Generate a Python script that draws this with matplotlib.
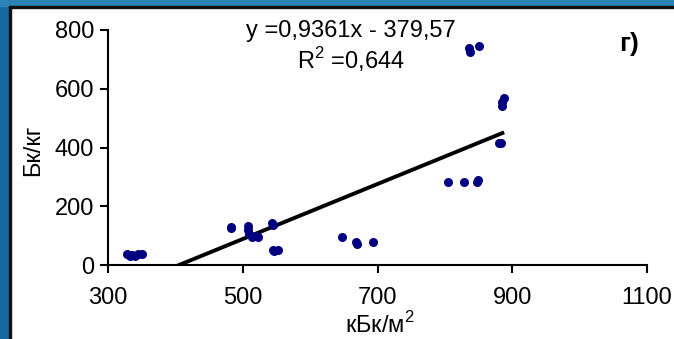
import numpy as np
import matplotlib
matplotlib.use("Agg")
import matplotlib.pyplot as plt
from matplotlib.patches import Rectangle

plt.rcParams['font.family'] = ['Liberation Sans', 'DejaVu Sans']
plt.rcParams['mathtext.fontset'] = 'custom'
plt.rcParams['mathtext.rm'] = 'Liberation Sans'

# data: deposition (kBq/m2) vs activity (Bq/kg)
deposition = [328, 332, 336, 340, 345, 350,
              482, 483,
              508, 508, 510, 513, 518, 522,
              543, 545, 545, 547, 552,
              647, 668, 669, 693,
              805, 829, 848, 849,
              836, 837, 851,
              880, 884, 885, 885, 888]
activity = [36, 30, 33, 30, 36, 36,
            131, 125,
            134, 120, 106, 97, 98, 97,
            143, 137, 52, 48, 50,
            95, 77, 71, 77,
            281, 281, 284, 289,
            738, 726, 745,
            415, 417, 542, 556, 570]

slope = 0.9361
intercept = -379.57
r2 = 0.644

x_ticks = [300, 500, 700, 900, 1100]
y_ticks = [0, 200, 400, 600, 800]

fig = plt.figure(figsize=(6.74, 3.39), dpi=100)
fig.patch.set_facecolor('white')

# blue frame (left and top) with a thin dark edge
fig.patches.append(Rectangle((0, 0), 9 / 674, 1, transform=fig.transFigure,
                             color='#17679f', zorder=0))
fig.patches.append(Rectangle((0, 1 - 6 / 339), 1, 6 / 339, transform=fig.transFigure,
                             color='#2a82b5', zorder=0))
fig.patches.append(Rectangle((9 / 674, 0), 2 / 674, 1 - 6 / 339, transform=fig.transFigure,
                             color='#111111', zorder=1))
fig.patches.append(Rectangle((9 / 674, 1 - 8 / 339), 1, 2 / 339, transform=fig.transFigure,
                             color='#111111', zorder=1))

ax = fig.add_axes([108 / 674, 1 - 265 / 339, (647 - 108) / 674, (265 - 30) / 339])

ax.plot(deposition, activity, 'o', color='#000080', markersize=6.5, markeredgewidth=0,
        zorder=3)

xs = np.array([min(deposition), max(deposition)])
ax.plot(xs, slope * xs + intercept, color='black', linewidth=2.8, zorder=2,
        solid_capstyle='butt')

ax.set_xlim(300, 1100)
ax.set_ylim(0, 800)
ax.set_xticks(x_ticks)
ax.set_yticks(y_ticks)

for s in ['top', 'right']:
    ax.spines[s].set_visible(False)
for s in ['left', 'bottom']:
    ax.spines[s].set_linewidth(1.5)
ax.spines['bottom'].set_zorder(4)

ax.tick_params(axis='both', direction='out', length=6, width=1.5, labelsize=17)
ax.tick_params(axis='x', pad=10)
ax.tick_params(axis='y', pad=4)

fig.text(33 / 674, 1 - 150 / 339, 'Бк/кг', rotation=90, ha='center', va='center',
         fontsize=17)
fig.text(380 / 674, 1 - 325 / 339, 'кБк/м$^2$', ha='center', va='center', fontsize=17)

fig.text(351 / 674, 1 - 31 / 339, f'y ={slope:.4f}x - {abs(intercept):.2f}'.replace('.', ','),
         ha='center', va='center', fontsize=17)
fig.text(351 / 674, 1 - 60 / 339, f'R$^2$ ={r2:.3f}'.replace('.', ','),
         ha='center', va='center', fontsize=17)
fig.text(629 / 674, 1 - 44 / 339, 'г)', ha='center', va='center', fontsize=19,
         fontweight='bold')

fig.savefig('out.png', dpi=100)
